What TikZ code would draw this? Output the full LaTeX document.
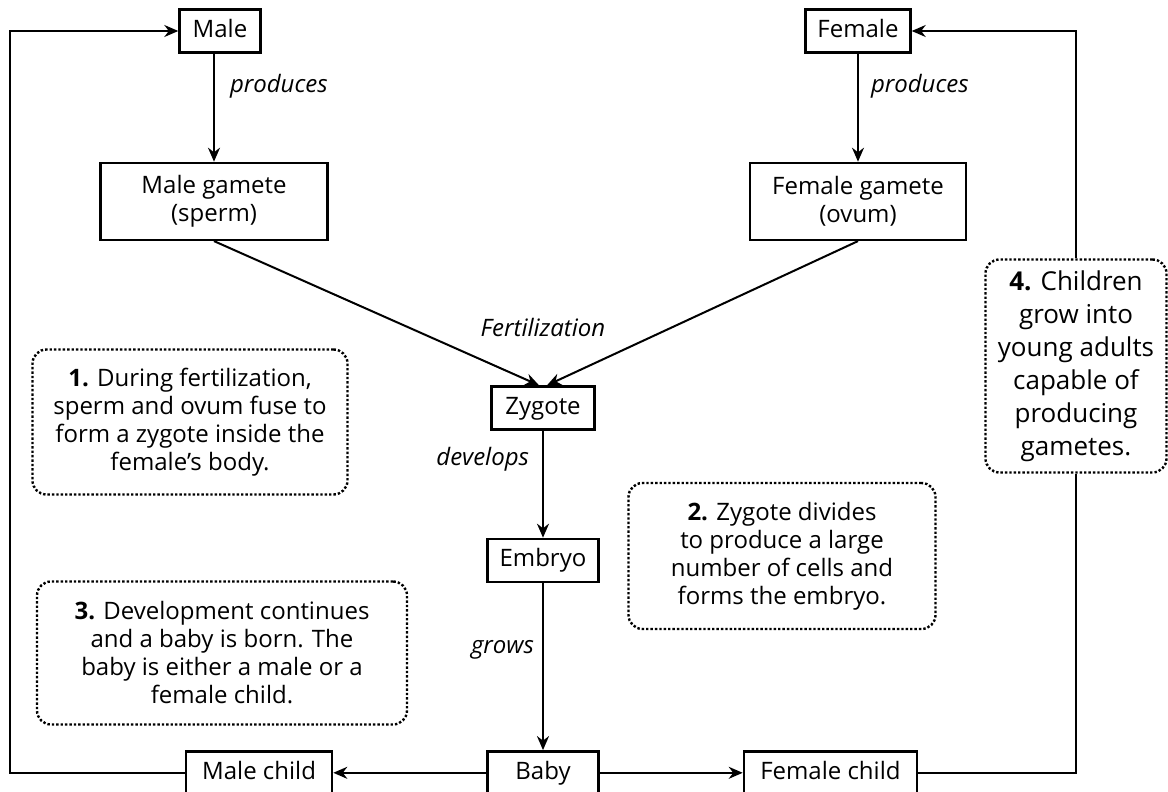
\documentclass[tikz,border=0pt]{standalone}
\usepackage{fontspec}
\setmainfont{Open Sans}
\usetikzlibrary{arrows.meta,positioning}

\tikzset{
  box/.style={rectangle, draw, line width=1.2pt, inner sep=0pt, minimum height=21.5pt, text height=9pt, text depth=2.5pt, align=center, font=\fontsize{12}{14}\selectfont},
  gamete/.style={box, minimum height=38.5pt, text height=, text depth=},
  note/.style={rectangle, draw, line width=1.2pt, densely dotted, rounded corners=7pt, inner sep=0pt, align=center, font=\fontsize{12}{14}\selectfont},
  arrow/.style={-{Stealth[length=7pt,width=6pt]}, line width=1pt},
  link/.style={line width=1pt},
}

\begin{document}
\begin{tikzpicture}[x=0.5pt, y=0.5pt]
  \tikzset{
    lbl/.style={font=\fontsize{12}{14}\selectfont\itshape, inner sep=0pt},
  }
  \useasboundingbox (0,0) rectangle (1168,-792);

  % Parents and their gametes (top)
  \node[box, minimum width=40.5pt] (male) at (220,-31) {Male};
  \node[box, minimum width=52.5pt] (female) at (858,-31) {Female};
  \node[gamete, minimum width=113.5pt, below=54pt of male, xshift=-3pt] (malegamete) {Male gamete\\(sperm)};
  \node[gamete, minimum width=108pt, below=54pt of female] (femalegamete) {Female gamete\\(ovum)};

  % Development (middle column)
  \node[box, minimum width=51.5pt] (zygote) at (543,-408) {Zygote};
  \node[box, minimum width=55.5pt, below=53.5pt of zygote] (embryo) {Embryo};
  \node[box, minimum width=55.5pt, below=83.5pt of embryo] (baby) {Baby};

  % Children (bottom row)
  \node[box, minimum width=73pt, left=76.5pt of baby] (malechild) {Male child};
  \node[box, minimum width=86.5pt, right=71.5pt of baby] (femalechild) {Female child};

  % Notes
  \node[note, minimum width=157.5pt, minimum height=72.5pt] (note1) at (190,-422)
    {\textbf{1.} During fertilization,\\sperm and ovum fuse to\\form a zygote inside the\\female’s body.};
  \node[note, minimum width=153.5pt, minimum height=73pt] (note2) at (782,-556)
    {\textbf{2.} Zygote divides\\to produce a large\\number of cells and\\forms the embryo.};
  \node[note, minimum width=185pt, minimum height=71.5pt] (note3) at (222,-653)
    {\textbf{3.} Development continues\\and a baby is born. The\\baby is either a male or a\\female child.};
  \node[note, minimum width=90.5pt, minimum height=106.5pt, font=\fontsize{13}{16.5}\selectfont] (note4) at (1076,-366)
    {\textbf{4.} Children\\grow into\\young adults\\capable of\\producing\\gametes.};

  \node[lbl] (fert) at (543,-327) {Fertilization};

  % Arrows
  \draw[arrow] (male.south -| malegamete) -- node[lbl, right=7.5pt, pos=0.3]{produces} (malegamete);
  \draw[arrow] (female) -- node[lbl, right=6pt, pos=0.3]{produces} (femalegamete);
  \draw[arrow] (malegamete.south) -- ([xshift=-2pt]zygote.north);
  \draw[arrow] (femalegamete.south) -- ([xshift=2pt]zygote.north);
  \draw[arrow] (zygote) -- node[lbl, left=6.5pt, pos=0.27]{develops} (embryo);
  \draw[arrow] (embryo) -- node[lbl, left=4pt, pos=0.4]{grows} (baby);
  \draw[arrow] (baby) -- (malechild);
  \draw[arrow] (baby) -- (femalechild);

  % Back to the parents
  \coordinate (leftturn) at (10,0);
  \draw[arrow] (malechild.west) -- (malechild.west -| leftturn) |- (male.west);
  \draw[link] (femalechild.east) -| (note4.south);
  \draw[arrow] (note4.north) |- (female.east);
\end{tikzpicture}
\end{document}
